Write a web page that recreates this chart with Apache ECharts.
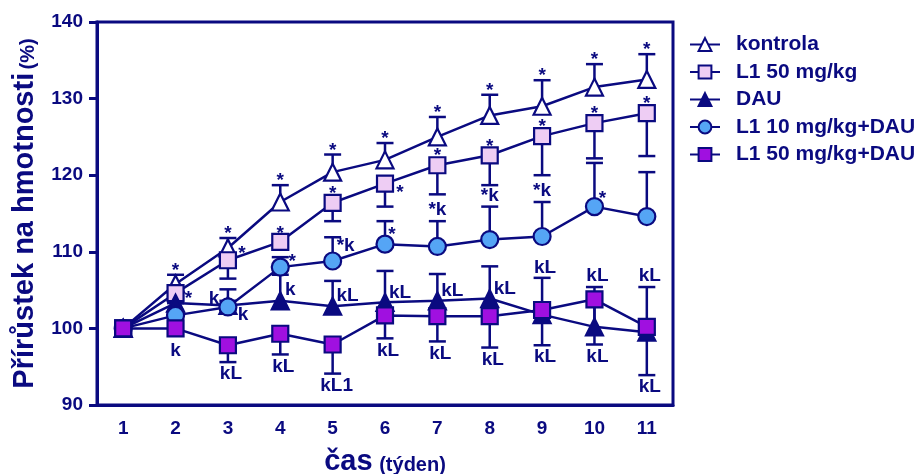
<!DOCTYPE html>
<html>
<head>
<meta charset="utf-8">
<script src="https://cdn.jsdelivr.net/npm/echarts@6/dist/echarts.min.js"></script>
<style>html,body{margin:0;padding:0;background:#fff}#c{width:917px;height:474px}</style>
</head>
<body>
<div id="c"></div>
<script>
// ---- data ----
const weeks = ['1','2','3','4','5','6','7','8','9','10','11'];
const seriesNames = ['kontrola','L1 50 mg/kg','DAU','L1 10 mg/kg+DAU','L1 50 mg/kg+DAU'];

const kontrola      = [100, 105.8, 110.5, 116.5, 120.4, 122.0, 125.0, 127.8, 129.0, 131.5, 132.5];
const kontrolaHigh  = [null, 107.0, 111.8, 118.7, 122.7, 124.2, 127.6, 130.5, 132.4, 134.5, 135.8];

const l1_50         = [100, 104.6, 108.9, 111.3, 116.4, 118.9, 121.3, 122.6, 125.1, 126.8, 128.1];
const l1_50Low      = [null, 103.3, 106.5, 110.5, 114.0, 115.9, 117.5, 118.7, 120.0, 122.2, 122.5];

const dau           = [100, 103.3, 103.0, 103.6, 102.9, 103.4, 103.6, 103.9, 101.8, 100.2, 99.5];
const dauHigh       = [null, 104.0, 105.1, 107.0, 106.2, 107.5, 107.1, 108.1, 106.6, 105.4, 105.4];

const l1_10dau      = [100, 101.7, 102.8, 108.0, 108.8, 111.0, 110.7, 111.6, 112.0, 115.9, 114.6];
const l1_10dauHigh  = [null, 102.4, 103.6, 109.3, 111.9, 114.0, 114.0, 115.9, 116.5, 121.6, 120.4];

const l1_50dau      = [100, 100.0, 97.8, 99.3, 97.9, 101.7, 101.6, 101.6, 102.4, 103.8, 100.2];
const l1_50dauLow   = [null, 99.4, 95.6, 96.6, 94.1, 98.7, 98.3, 97.5, 97.8, 97.9, 93.9];

// significance marks
const kontrolaSig   = [null,'*','*','*','*','*','*','*','*','*','*'];
const l1_50Sig      = [null,'*','*','*','*','*','*','*','*','*','*'];
const dauSig        = [null,null,'k','k','kL','kL','kL','kL','kL','kL','kL'];
const l1_10dauSig   = [null,null,'k','*','*k','*','*k','*k','*k','*',null];
const l1_50dauSig   = [null,'k','kL','kL','kL1','kL','kL','kL','kL','kL','kL'];

const yTicks = [90, 100, 110, 120, 130, 140];

// ---- styling / layout ----
const NAVY = '#0a0a80';
const FONT = 'Arial, "Liberation Sans", Helvetica, sans-serif';

// label placement: [anchor ('point' | 'end'), dx, dy] (visual centre offsets in px)
function fill(n, v){ return Array.from({length:n}, () => v.slice()); }
const kontrolaLay = fill(11, ['end', 0, -8]);
const l1_50Lay = fill(11, ['point', 0, -13]);
l1_50Lay[1] = ['point', 13, 2]; l1_50Lay[2] = ['point', 14, -10]; l1_50Lay[3] = ['point', 0, -12]; l1_50Lay[5] = ['point', 15, 5];
const dauLay = fill(11, ['point', 15, -10]);
dauLay[2] = ['point', -14, -7]; dauLay[3] = ['point', 10, -11];
dauLay[8] = ['end', 3, -10]; dauLay[9] = ['end', 3, -11]; dauLay[10] = ['end', 3, -11];
const l1_10dauLay = fill(11, ['end', 0, -11]);
l1_10dauLay[2] = ['point', 15, 8]; l1_10dauLay[3] = ['point', 12, -9]; l1_10dauLay[4] = ['end', 13, 9];
l1_10dauLay[5] = ['point', 7, -13]; l1_10dauLay[9] = ['point', 8, -12];
const l1_50dauLay = fill(11, ['end', 3, 12]);
l1_50dauLay[1] = ['point', 0, 22]; l1_50dauLay[4] = ['end', 4, 12];

const groups = [
  {name: seriesNames[0], vals: kontrola, err: kontrolaHigh, sig: kontrolaSig, lay: kontrolaLay,
   symbol: 'triangle', size: 17, fill: '#ffffff'},
  {name: seriesNames[1], vals: l1_50, err: l1_50Low, sig: l1_50Sig, lay: l1_50Lay,
   symbol: 'rect', size: 16, fill: '#eecdf4'},
  {name: seriesNames[2], vals: dau, err: dauHigh, sig: dauSig, lay: dauLay,
   symbol: 'triangle', size: 17, fill: NAVY},
  {name: seriesNames[3], vals: l1_10dau, err: l1_10dauHigh, sig: l1_10dauSig, lay: l1_10dauLay,
   symbol: 'circle', size: 17, fill: '#55a5f5'},
  {name: seriesNames[4], vals: l1_50dau, err: l1_50dauLow, sig: l1_50dauSig, lay: l1_50dauLay,
   symbol: 'rect', size: 16, fill: '#a010e0'}
];

const series = [];
groups.forEach((g, gi) => {
  // error bars
  const errData = [];
  g.vals.forEach((v, i) => { if (g.err[i] != null) errData.push([i, v, g.err[i]]); });
  series.push({
    type: 'custom', name: g.name + ' err', z: 1, silent: true,
    encode: {x: 0, y: [1, 2]},
    data: errData,
    renderItem: function(params, api){
      const p0 = api.coord([api.value(0), api.value(1)]);
      const p1 = api.coord([api.value(0), api.value(2)]);
      const hw = 8.5;
      return {type: 'group', children: [
        {type: 'line', shape: {x1: p0[0], y1: p0[1], x2: p1[0], y2: p1[1]}, style: {stroke: NAVY, lineWidth: 2.5}},
        {type: 'line', shape: {x1: p1[0]-hw, y1: p1[1], x2: p1[0]+hw, y2: p1[1]}, style: {stroke: NAVY, lineWidth: 2.5}}
      ]};
    }
  });
  // line + markers
  series.push({
    type: 'line', name: g.name, z: 3 + gi,
    data: g.vals,
    symbol: g.symbol, symbolSize: g.size,
    lineStyle: {color: NAVY, width: 2.5},
    itemStyle: {color: g.fill, borderColor: NAVY, borderWidth: 2.2},
    emphasis: {disabled: true}
  });
  // significance labels
  const labData = [];
  g.sig.forEach((s, i) => {
    if (s == null) return;
    const lay = g.lay[i];
    const anchor = lay[0] === 'end' ? g.err[i] : g.vals[i];
    labData.push([i, anchor, s, lay[1], lay[2]]);
  });
  series.push({
    type: 'custom', name: g.name + ' sig', z: 20, silent: true,
    encode: {x: 0, y: 1},
    data: labData,
    renderItem: function(params, api){
      const d = labData[params.dataIndex];
      const p = api.coord([d[0], d[1]]);
      const txt = d[2];
      const corr = txt === '*' ? 4 : 0;
      return {type: 'text', x: p[0] + d[3], y: p[1] + d[4] + corr,
        style: {text: txt, fill: NAVY, font: 'bold 19px ' + FONT, align: 'center', verticalAlign: 'middle'}};
    }
  });
});

const chart = echarts.init(document.getElementById('c'), null, {renderer: 'canvas'});
chart.setOption({
  animation: false,
  backgroundColor: '#ffffff',
  grid: {left: 97, right: 244, top: 22, bottom: 69, show: true, borderColor: NAVY, borderWidth: 3,
    backgroundColor: 'transparent', containLabel: false, outerBoundsMode: 'none'},
  legend: {
    data: seriesNames, orient: 'vertical', left: 684, top: 29,
    itemWidth: 30, itemHeight: 16, itemGap: 6.5,
    selectedMode: false,
    textStyle: {color: NAVY, fontWeight: 'bold', fontSize: 21, fontFamily: FONT, padding: [0, 0, 0, 11]}
  },
  xAxis: {
    type: 'category', data: weeks, boundaryGap: true,
    axisLine: {lineStyle: {color: NAVY, width: 3}},
    axisTick: {alignWithLabel: true, length: 7, lineStyle: {color: NAVY, width: 3}},
    axisLabel: {color: NAVY, fontWeight: 'bold', fontSize: 19, fontFamily: FONT, margin: 14},
    splitLine: {show: false},
    name: '{a|čas}  {b|(týden)}', nameLocation: 'middle', nameGap: 42,
    nameTextStyle: {color: NAVY, fontFamily: FONT, fontWeight: 'bold',
      rich: {a: {fontSize: 29, fontWeight: 'bold', color: NAVY, fontFamily: FONT, verticalAlign: 'bottom'},
             b: {fontSize: 20, fontWeight: 'bold', color: NAVY, fontFamily: FONT, verticalAlign: 'bottom', padding: [0,0,1,0]}}}
  },
  yAxis: {
    type: 'value', min: 90, max: 140, interval: 10,
    axisLine: {show: true, lineStyle: {color: NAVY, width: 3}},
    axisTick: {show: true, length: 8, lineStyle: {color: NAVY, width: 3}},
    axisLabel: {color: NAVY, fontWeight: 'bold', fontSize: 19, fontFamily: FONT, margin: 14,
      customValues: yTicks},
    splitLine: {show: false},
    name: '{a|Přírůstek na hmotnosti} {b|(%)}', nameLocation: 'middle', nameGap: 58, nameRotate: 90,
    nameTextStyle: {color: NAVY, fontFamily: FONT, fontWeight: 'bold',
      rich: {a: {fontSize: 29, fontWeight: 'bold', color: NAVY, fontFamily: FONT, verticalAlign: 'bottom'},
             b: {fontSize: 20, fontWeight: 'bold', color: NAVY, fontFamily: FONT, verticalAlign: 'bottom', padding: [0,0,1,0]}}}
  },
  series: series
});
</script>
</body>
</html>
